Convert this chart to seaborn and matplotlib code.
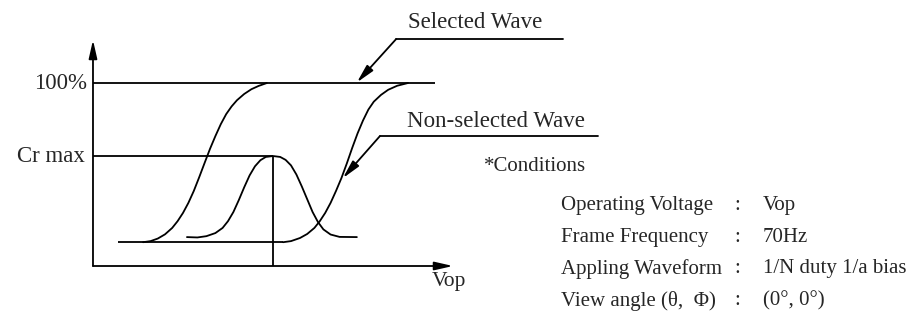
import pandas as pd
import matplotlib.pyplot as plt
import seaborn as sns

# curve values (x ~ voltage, y ~ contrast %)
left_x = [1.39, 1.60, 1.80, 2.00, 2.20, 2.35, 2.50, 2.65, 2.80, 2.95, 3.10,
          3.25, 3.40, 3.55, 3.70, 3.85, 4.00, 4.20, 4.40, 4.60, 4.83]
left_y = [13.0, 13.6, 15.0, 17.3, 20.8, 24.5, 29.0, 34.5, 41.0, 48.5, 56.3,
          64.0, 71.0, 77.5, 83.0, 87.2, 90.6, 94.0, 96.6, 98.4, 100]

bell_x = [2.61, 2.90, 3.15, 3.40, 3.60, 3.75, 3.90, 4.05, 4.20, 4.35, 4.50, 4.65, 4.80,
          5.00, 5.20, 5.35, 5.50, 5.65, 5.80, 5.95, 6.10, 6.25, 6.40, 6.60, 6.85, 7.33]
bell_y = [15.8, 15.6, 16.3, 18.0, 20.8, 24.5, 29.5, 36.0, 43.0, 49.5, 54.5, 57.8, 59.6,
          60.1, 59.6, 58.0, 55.0, 50.0, 43.5, 36.5, 29.5, 24.0, 20.0, 17.2, 15.9, 15.8]

right_x = [5.28, 5.50, 5.75, 5.95, 6.15, 6.30, 6.45, 6.60, 6.75, 6.90,
           7.05, 7.20, 7.35, 7.50, 7.65, 7.80, 8.00, 8.20, 8.45, 8.75]
right_y = [13.0, 13.6, 15.3, 17.5, 20.8, 24.5, 29.0, 34.5, 41.0, 48.0,
           56.0, 64.5, 72.5, 79.5, 85.5, 89.8, 93.5, 96.3, 98.5, 100]

base_y = 13
base_x = [0.69, 5.28]
full_y = 100
full_end = 9.5
cr_max = 60
cr_x = 5.0

cond_labels = ['Operating Voltage', 'Frame Frequency', 'Appling Waveform', 'View angle (θ,  Φ)']
cond_values = ['Vop', '70Hz', '1/N duty 1/a bias', '(0°, 0°)']

sns.set_style('white')
plt.rcParams['font.family'] = ['Liberation Serif', 'DejaVu Serif']

fig = plt.figure(figsize=(9.17, 3.25), dpi=100)
ax = fig.add_axes([0, 0, 1, 1])
ax.set_xlim(-2.583, 22.889)
ax.set_ylim(-32.24, 145.36)
ax.axis('off')

lw = 1.3
k = 'black'

for xs, ys in [(left_x, left_y), (bell_x, bell_y), (right_x, right_y)]:
    df = pd.DataFrame({'v': xs, 'c': ys})
    sns.lineplot(data=df, x='v', y='c', ax=ax, color=k, lw=lw, sort=False, estimator=None)

ax.hlines(base_y, base_x[0], base_x[1], color=k, lw=lw)
ax.hlines(full_y, 0, full_end, color=k, lw=lw)
ax.hlines(cr_max, 0, cr_x, color=k, lw=lw)
ax.vlines(cr_x, 0, cr_max, color=k, lw=lw)

# axes with arrows
head = dict(arrowstyle='-|>,head_length=1.1,head_width=0.25', color=k, lw=lw,
            mutation_scale=10, shrinkA=0, shrinkB=0)
ax.annotate('', xy=(0, 123.5), xytext=(0, 0), arrowprops=head)
ax.annotate('', xy=(10, 0), xytext=(0, 0), arrowprops=head)

# leader lines
ax.plot([13.06, 8.42], [124, 124], color=k, lw=lw)
ax.annotate('', xy=(7.33, 100.3), xytext=(8.42, 124), arrowprops=head)
ax.plot([14.03, 7.97], [71, 71], color=k, lw=lw)
ax.annotate('', xy=(6.94, 48), xytext=(7.97, 71), arrowprops=head)

fs = 16.5
ax.text(8.75, 132.8, 'Selected Wave', fontsize=fs, va='center', ha='left')
ax.text(8.72, 78.7, 'Non-selected Wave', fontsize=fs, va='center', ha='left')
ax.text(-0.17, 100, '100%', fontsize=fs, va='center', ha='right')
ax.text(-0.22, 60, 'Cr max', fontsize=fs, va='center', ha='right')
ax.text(9.42, -8.7, 'Vop', fontsize=15.5, va='center', ha='left')

ax.text(10.86, 54.6, '*Conditions', fontsize=15, va='center', ha='left')
rows = [33.3, 15.8, -1.6, -19.1]
for lab, val, y in zip(cond_labels, cond_values, rows):
    ax.text(13.0, y, lab, fontsize=15, va='center', ha='left')
    ax.text(17.83, y, ':', fontsize=15, va='center', ha='left')
    ax.text(18.61, y, val, fontsize=15, va='center', ha='left')

fig.savefig('out.png', dpi=100)
